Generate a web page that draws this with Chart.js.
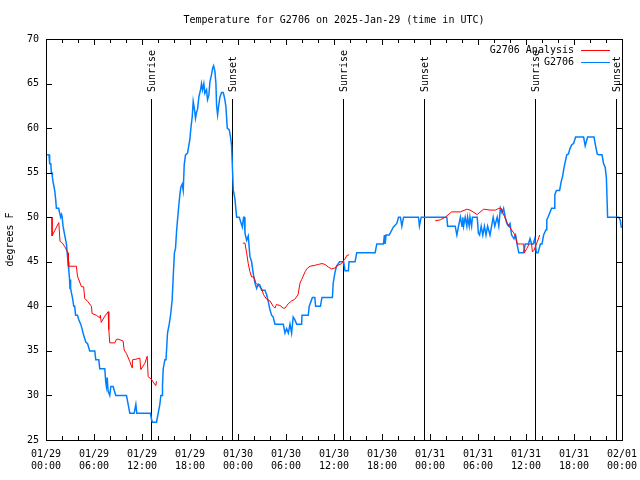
<!DOCTYPE html>
<html>
<head>
<meta charset="utf-8">
<title>Temperature for G2706</title>
<script src="https://cdn.jsdelivr.net/npm/chart.js@4.4.1/dist/chart.umd.min.js"></script>
<style>
    html, body { margin: 0; padding: 0; background: #fff; }
    #wrap { width: 640px; height: 480px; }
</style>
</head>
<body>
<div id="wrap"><canvas id="tempChart" width="640" height="480"></canvas></div>
<script>
// Chart data (hours since 2025-01-29 00:00 UTC, degrees F)
const chartTitle = 'Temperature for G2706 on 2025-Jan-29 (time in UTC)';
const yAxisTitle = 'degrees F';

const tickHours = [0, 6, 12, 18, 24, 30, 36, 42, 48, 54, 60, 66, 72];
const tickLabels = [
    ['01/29', '00:00'], ['01/29', '06:00'], ['01/29', '12:00'], ['01/29', '18:00'],
    ['01/30', '00:00'], ['01/30', '06:00'], ['01/30', '12:00'], ['01/30', '18:00'],
    ['01/31', '00:00'], ['01/31', '06:00'], ['01/31', '12:00'], ['01/31', '18:00'],
    ['02/01', '00:00']
];

const sunHours = [13.14, 23.28, 37.17, 47.3, 61.08, 71.3];
const sunLabels = ['Sunrise', 'Sunset', 'Sunrise', 'Sunset', 'Sunrise', 'Sunset'];

// [hour, temp]; null temp = no analysis
const analysisTemps = [
    [0.75, 50], [0.76, 47.9], [1.6, 49.4], [1.75, 47.3], [2.05, 47.1], [2.34, 46.7],
    [2.75, 46], [2.8, 44.5], [3.8, 44.5], [3.93, 43.4], [4.43, 42.2], [4.7, 42.2],
    [4.84, 40.9], [5.26, 40.5], [5.68, 40], [5.76, 39.2], [6.3, 39], [6.72, 38.7],
    [6.8, 39], [6.9, 38.2], [7.35, 38.9], [7.77, 39.4], [7.85, 37.4], [7.97, 35.9],
    [8.6, 35.9], [8.8, 36.3], [9.1, 36.3], [9.64, 36.1], [9.77, 35.1], [10.06, 34.7],
    [10.48, 33.8], [10.76, 33.1], [10.8, 34], [11.4, 34.1], [11.73, 34.2], [11.85, 32.9],
    [12.35, 33.6], [12.65, 34.4], [12.77, 32.1], [13.19, 31.8], [13.48, 31.4],
    [13.73, 31.1], [13.81, 31.6],
    [19, null],
    [24.6, 47.1], [24.87, 47.1], [25.08, 46], [25.28, 44.8], [25.49, 43.9], [25.7, 43.3],
    [25.99, 43.3], [26.24, 42.6], [26.66, 42.2], [26.95, 42], [27.2, 41.3], [27.58, 40.8],
    [28.0, 40.6], [28.4, 40], [28.62, 39.8], [28.8, 40.2], [29.25, 40.1], [29.66, 39.8],
    [29.87, 39.8], [30.29, 40.3], [30.7, 40.6], [31.1, 40.8], [31.5, 41.3], [31.75, 42.6],
    [31.95, 43], [32.4, 43.9], [32.59, 44.2], [33.0, 44.5], [33.6, 44.6], [34.05, 44.7],
    [34.5, 44.8], [34.88, 44.7], [35.3, 44.4], [35.7, 44.2], [36.1, 44.3], [36.5, 44.6],
    [36.97, 44.8], [37.17, 45.1], [37.38, 45.3], [37.59, 45.7], [37.88, 45.8],
    [43, null],
    [48.65, 49.6], [49.27, 49.7], [49.9, 50], [50.7, 50.6], [51.8, 50.6], [52.6, 50.9],
    [53.0, 50.8], [53.9, 50.3], [54.7, 50.9], [55.5, 50.8], [56.2, 50.8], [56.6, 51],
    [56.9, 51], [57.1, 50.5], [57.3, 50.1], [57.5, 49.7], [57.7, 49.3], [58.0, 48.8],
    [58.5, 48.2], [58.7, 47.8], [58.9, 47], [59.3, 47], [59.7, 47], [59.8, 46],
    [60.1, 46.5], [60.4, 47], [60.7, 47], [60.8, 46.1], [61.0, 46.3], [61.3, 47],
    [61.6, 47.7], [61.7, 48]
];

const stationTemps = [
    [0, 57], [0.38, 57], [0.46, 56], [0.6, 56], [0.67, 55], [0.75, 55], [0.8, 54.5],
    [0.88, 54], [1.09, 53], [1.21, 52], [1.3, 51], [1.59, 51], [1.7, 50.5], [1.84, 50],
    [1.95, 50.3], [2.02, 50], [2.13, 49], [2.34, 48], [2.55, 47], [2.65, 46], [2.75, 45],
    [2.85, 44], [2.95, 43], [3.0, 42], [3.05, 43], [3.1, 42], [3.18, 41.5], [3.3, 41],
    [3.47, 40], [3.59, 40], [3.7, 39], [3.93, 39], [4.1, 38.5], [4.34, 38], [4.5, 37.5],
    [4.63, 37], [4.8, 36.5], [4.97, 36], [5.2, 35.8], [5.47, 35], [6.1, 35], [6.22, 34],
    [6.6, 34], [6.72, 33], [7.35, 33], [7.47, 31.5], [7.55, 31], [7.65, 32], [7.76, 30.5],
    [7.97, 30], [8.1, 31], [8.39, 31], [8.55, 30.5], [8.72, 30], [10.06, 30], [10.27, 29],
    [10.48, 28], [11.02, 28], [11.23, 29], [11.35, 28], [13.06, 28], [13.19, 27.3],
    [13.31, 27], [13.81, 27], [14.02, 28], [14.23, 29], [14.36, 30], [14.5, 30],
    [14.56, 31], [14.65, 33], [14.86, 34], [15.0, 34], [15.19, 37], [15.4, 38],
    [15.57, 39], [15.77, 40.7], [15.9, 43.3], [16.05, 46], [16.19, 46.5], [16.32, 48.4],
    [16.44, 49.7], [16.61, 51.4], [16.73, 52.5], [16.86, 53.4], [17.02, 53.7], [17.15, 53],
    [17.28, 55.9], [17.44, 57], [17.69, 57.2], [17.86, 58.1], [17.98, 58.7], [18.11, 60],
    [18.28, 61.3], [18.4, 63], [18.53, 62.3], [18.69, 61.1], [18.82, 61.8], [18.94, 62.1],
    [19.11, 63.5], [19.32, 64.3], [19.44, 65], [19.57, 64.3], [19.73, 65], [19.86, 63.9],
    [20.07, 64.3], [20.19, 63.2], [20.36, 63.7], [20.49, 65.2], [20.69, 66], [20.82, 66.7],
    [20.95, 67], [21.11, 66.4], [21.24, 65], [21.32, 62.6], [21.45, 61.5], [21.57, 62.4],
    [21.74, 63.5], [21.95, 64], [22.16, 64], [22.36, 63.2], [22.49, 62.4], [22.66, 60],
    [22.91, 59.8], [23.08, 58.9], [23.2, 58], [23.28, 56.1], [23.41, 53.1], [23.62, 52],
    [23.83, 50], [24.16, 50], [24.33, 49.5], [24.54, 48.9], [24.7, 50], [24.79, 50],
    [24.87, 48.2], [25.08, 47.4], [25.28, 47.9], [25.49, 45.6], [25.7, 45], [25.9, 43.7],
    [26.12, 42.6], [26.33, 42], [26.53, 42.5], [26.74, 42.4], [26.95, 41.8], [27.37, 41.8],
    [27.58, 41.3], [27.79, 40.5], [28.0, 39.6], [28.2, 39], [28.4, 38.8], [28.62, 38],
    [29.66, 38], [29.87, 37], [30.08, 37.5], [30.29, 37], [30.5, 38], [30.7, 37],
    [30.9, 38.8], [31.1, 38.5], [31.33, 38], [31.95, 38], [32.0, 39], [32.78, 39],
    [32.9, 40], [33.1, 40.5], [33.3, 41], [33.6, 41], [33.7, 40], [34.3, 40], [34.5, 41],
    [35.8, 41], [35.9, 42.6], [36.1, 43.7], [36.3, 44.5], [36.7, 45], [37.2, 45],
    [37.38, 44], [37.8, 44], [37.88, 45], [38.63, 45], [38.84, 46], [41.14, 46],
    [41.35, 47], [42.18, 47], [42.3, 48], [42.4, 47], [42.5, 48], [42.9, 48],
    [43.43, 48.9], [43.85, 49.3], [44.06, 50], [44.3, 50], [44.48, 49], [44.7, 50],
    [46.56, 50], [46.68, 49], [46.9, 50], [50.1, 50], [50.2, 49], [51.15, 49],
    [51.36, 48], [51.57, 49], [51.8, 50], [52.0, 49], [52.1, 50], [52.2, 49], [52.4, 50],
    [52.6, 49], [52.7, 50], [52.9, 49], [53.0, 50], [53.2, 49], [53.3, 50], [53.9, 50],
    [54.05, 48.2], [54.2, 48], [54.4, 49], [54.6, 48], [54.8, 49], [55.0, 48], [55.2, 49],
    [55.5, 48], [55.7, 49], [55.9, 50], [56.1, 49], [56.4, 50], [56.6, 49], [56.8, 51],
    [57.0, 50.5], [57.2, 51], [57.4, 50], [57.6, 49.3], [57.8, 49], [58.0, 49.3],
    [58.2, 48], [58.5, 47.6], [58.7, 48], [58.9, 46.9], [59.1, 46], [59.7, 46], [59.9, 47],
    [60.3, 47], [60.5, 47.6], [60.7, 47], [60.9, 47], [61.1, 47.6], [61.3, 46], [61.5, 46],
    [61.8, 47], [62.0, 47], [62.2, 48], [62.5, 48.6], [62.6, 49.7], [62.8, 50.1],
    [63.2, 51], [63.5, 51], [63.6, 52.5], [63.8, 53], [64.2, 53], [64.4, 54], [64.6, 54.7],
    [64.7, 55.3], [64.9, 56.2], [65.1, 57], [65.3, 57.1], [65.5, 57.7], [65.7, 58.1],
    [65.96, 58.3], [66.2, 59], [67.2, 59], [67.4, 58], [67.7, 59], [68.5, 59], [68.7, 58],
    [68.9, 57.1], [69.1, 57], [69.5, 57], [69.7, 56], [69.9, 55.6], [70.05, 54.4],
    [70.2, 50], [71.6, 50], [71.8, 49.6], [71.9, 48.9], [72, 48.9]
];

const seriesNames = ['G2706 Analysis', 'G2706'];
const seriesColors = ['#ff0000', '#0080ff'];

const FONT = 'DejaVu Sans Mono';
Chart.defaults.font.family = FONT;
Chart.defaults.font.size = 10;
Chart.defaults.color = '#000';

const toPoints = rows => rows.map(([x, y]) => ({ x: x, y: y }));

// gnuplot-ish frame: border, inward ticks, sun lines, legend and title
const gnuplotFrame = {
    id: 'gnuplotFrame',
    beforeDatasetsDraw(chart) {
        const { ctx, chartArea: ca, scales: { x, y } } = chart;
        const topY = Math.round(y.getPixelForValue(63.3));
        ctx.save();
        ctx.strokeStyle = '#000';
        ctx.lineWidth = 1;
        sunHours.forEach(h => {
            const px = Math.round(x.getPixelForValue(h)) + 0.5;
            ctx.beginPath();
            ctx.moveTo(px, topY);
            ctx.lineTo(px, ca.bottom);
            ctx.stroke();
        });
        ctx.restore();
    },
    afterDatasetsDraw(chart) {
        const { ctx, chartArea: ca, scales: { x, y } } = chart;
        ctx.save();
        ctx.strokeStyle = '#000';
        ctx.lineWidth = 1;

        // border
        ctx.strokeRect(Math.round(ca.left) + 0.5, Math.round(ca.top) + 0.5,
            Math.round(ca.right - ca.left), Math.round(ca.bottom - ca.top));

        // ticks on all four sides, pointing in
        ctx.beginPath();
        x.ticks.forEach(t => {
            const px = Math.round(x.getPixelForValue(t.value)) + 0.5;
            const len = t.value % 6 === 0 ? 6 : 4;
            ctx.moveTo(px, ca.bottom); ctx.lineTo(px, ca.bottom - len);
            ctx.moveTo(px, ca.top); ctx.lineTo(px, ca.top + len);
        });
        y.ticks.forEach(t => {
            const py = Math.round(y.getPixelForValue(t.value)) + 0.5;
            ctx.moveTo(ca.left, py); ctx.lineTo(ca.left + 6, py);
            ctx.moveTo(ca.right, py); ctx.lineTo(ca.right - 6, py);
        });
        ctx.stroke();

        // sunrise / sunset labels
        ctx.fillStyle = '#000';
        ctx.font = '10px ' + FONT;
        const topY = Math.round(y.getPixelForValue(63.3));
        sunHours.forEach((h, i) => {
            const px = Math.round(x.getPixelForValue(h)) + 0.5;
            ctx.save();
            ctx.translate(px + 1, topY - 7);
            ctx.rotate(-Math.PI / 2);
            ctx.textAlign = 'left';
            ctx.textBaseline = 'middle';
            ctx.fillText(sunLabels[i], 0, 0);
            ctx.restore();
        });

        // legend, top right
        chart.data.datasets.forEach((ds, i) => {
            const ly = 50 + i * 12;
            ctx.textAlign = 'right';
            ctx.textBaseline = 'middle';
            ctx.fillStyle = '#000';
            ctx.fillText(ds.label, ca.right - 48, ly);
            ctx.strokeStyle = ds.borderColor;
            ctx.lineWidth = 1;
            ctx.beginPath();
            ctx.moveTo(ca.right - 41, ly + 0.5);
            ctx.lineTo(ca.right - 12, ly + 0.5);
            ctx.stroke();
        });

        // title
        ctx.fillStyle = '#000';
        ctx.textAlign = 'center';
        ctx.textBaseline = 'middle';
        ctx.fillText(chartTitle, (ca.left + ca.right) / 2, 20);
        ctx.restore();
    }
};

const ctx = document.getElementById('tempChart').getContext('2d');
new Chart(ctx, {
    type: 'line',
    data: {
        datasets: [{
            label: seriesNames[0],
            data: toPoints(analysisTemps),
            borderColor: seriesColors[0],
            borderWidth: 1,
            pointRadius: 0,
            tension: 0,
            spanGaps: false,
            fill: false
        }, {
            label: seriesNames[1],
            data: toPoints(stationTemps),
            borderColor: seriesColors[1],
            borderWidth: 1.5,
            pointRadius: 0,
            tension: 0,
            fill: false
        }]
    },
    options: {
        responsive: false,
        animation: false,
        devicePixelRatio: 1,
        layout: { padding: { left: 0, top: 39, right: 18, bottom: 0 } },
        plugins: {
            legend: { display: false },
            title: { display: false },
            tooltip: { enabled: false }
        },
        scales: {
            x: {
                type: 'linear',
                min: 0,
                max: 72,
                afterFit(scale) {
                    scale.height = 40;
                    scale.paddingLeft = 0;
                    scale.paddingRight = 0;
                },
                grid: { display: false, drawTicks: false },
                border: { display: false },
                ticks: {
                    stepSize: 2,
                    autoSkip: false,
                    maxRotation: 0,
                    padding: 9,
                    font: { size: 10, lineHeight: 1.15 },
                    callback(value) {
                        const i = tickHours.indexOf(value);
                        return i >= 0 ? tickLabels[i] : '';
                    }
                }
            },
            y: {
                min: 25,
                max: 70,
                afterFit(scale) { scale.width = 46; },
                grid: { display: false, drawTicks: false },
                border: { display: false },
                ticks: { stepSize: 5, padding: 7, font: { size: 10 } },
                title: {
                    display: true,
                    text: yAxisTitle,
                    font: { size: 10 },
                    padding: { top: 4, bottom: 0 }
                }
            }
        }
    },
    plugins: [gnuplotFrame]
});
</script>
</body>
</html>
